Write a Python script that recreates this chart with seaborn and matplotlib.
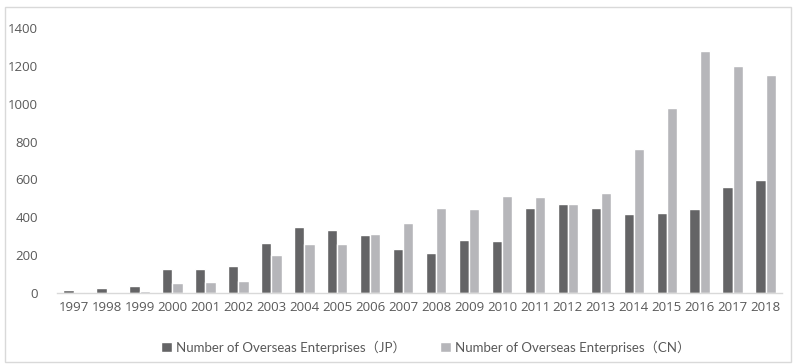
import pandas as pd
import seaborn as sns
import matplotlib.pyplot as plt
from matplotlib.patches import Rectangle

# Values
years = [str(y) for y in range(1997, 2019)]
jp_counts = [18, 28, 39, 128, 128, 144, 266, 350, 335, 308, 234, 213,
             282, 276, 451, 472, 451, 419, 424, 446, 562, 599]
cn_counts = [7, 0, 12, 55, 60, 65, 202, 261, 261, 313, 372, 451,
             446, 514, 509, 472, 530, 762, 979, 1280, 1201, 1153]
series_names = ["Number of Overseas Enterprises（JP）",
                "Number of Overseas Enterprises（CN）"]

df = pd.DataFrame({"Year": years * 2,
                   "Count": jp_counts + cn_counts,
                   "Series": [series_names[0]] * len(years) + [series_names[1]] * len(years)})

sns.set_style("white")
plt.rcParams['font.family'] = ['Open Sans', 'Noto Sans CJK SC', 'DejaVu Sans']
text_color = "#595959"

fig = plt.figure(figsize=(7.94, 3.64), dpi=100)
ax = fig.add_axes([0.072, 0.195, 0.913, 0.728])

sns.barplot(data=df, x="Year", y="Count", hue="Series", ax=ax,
            palette=["#646466", "#b6b6ba"], width=0.62, gap=0, saturation=1)

ax.set_ylim(0, 1400)
ax.set_xlim(-0.5, len(years) - 0.5)
ax.set_yticks(range(0, 1401, 200))
ax.set_xlabel("")
ax.set_ylabel("")

for side in ["top", "right", "left"]:
    ax.spines[side].set_visible(False)
ax.spines["bottom"].set_color("#d9d9d9")
ax.spines["bottom"].set_linewidth(1)

# category boundary ticks like Excel
ax.set_xticks([i - 0.5 for i in range(len(years) + 1)], minor=True)
ax.tick_params(axis="x", which="minor", length=4, color="#d9d9d9", width=1, direction="out")
ax.tick_params(axis="x", which="major", length=0, labelsize=9.5, labelcolor=text_color, pad=6)
ax.tick_params(axis="y", length=0, labelsize=9.5, labelcolor=text_color, pad=14)

ax.legend_.remove()
handles, labels = ax.get_legend_handles_labels()
leg = fig.legend(handles, labels, loc="lower center", bbox_to_anchor=(0.536, -0.005), ncol=2,
                 frameon=False, labelcolor=text_color, handlelength=0.8,
                 handleheight=0.8, handletextpad=0.3, columnspacing=2.6,
                 prop={"family": ["Lato", "Noto Sans CJK SC", "DejaVu Sans"], "size": 9.5})

# light chart border
fig.patches.append(Rectangle((0.006, 0.005), 0.99, 0.975, transform=fig.transFigure,
                             fill=False, edgecolor="#d9d9d9", linewidth=1))

plt.savefig("out.png", dpi=100)
